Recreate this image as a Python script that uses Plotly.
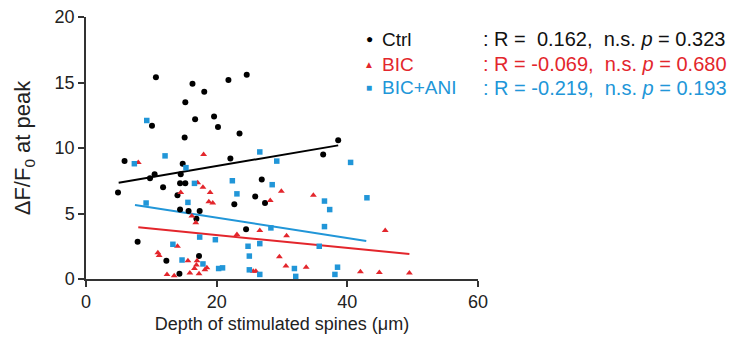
import plotly.graph_objects as go

# ---- data ----
ctrl_x = [10.7, 16.3, 18.1, 15.2, 16.7, 10.1, 15.1, 21.8, 24.6, 19.6, 20.2, 23.5, 38.6,
          5.9, 14.8, 10.5, 9.8, 14.5, 14.4, 15.2, 4.9, 11.8, 14.0, 14.4, 15.7, 17.4,
          16.9, 7.9, 12.3, 17.3, 14.3, 22.1, 36.3, 26.9, 25.9, 27.4, 22.7, 24.5]
ctrl_y = [15.4, 14.9, 14.3, 13.5, 12.2, 11.7, 10.8, 15.2, 15.6, 12.4, 11.6, 11.1, 10.6,
          9.0, 8.8, 8.0, 7.7, 8.0, 7.3, 7.3, 6.6, 7.0, 6.4, 5.3, 5.2, 5.2,
          4.6, 2.85, 1.4, 1.75, 0.4, 9.2, 9.5, 7.6, 6.3, 5.8, 5.7, 3.8]

bic_x = [8.0, 18.0, 17.1, 17.9, 14.5, 18.8, 16.2, 16.8, 14.0, 11.2, 15.6, 17.0, 16.9,
         18.5, 15.9, 17.3, 12.4, 13.5, 19.0, 29.9, 34.8, 19.4, 28.2, 26.6, 23.1, 30.7,
         29.6, 30.6, 33.7, 25.6, 26.0, 45.8, 42.0, 44.9, 49.5, 11.0, 18.2, 16.6]
bic_y = [8.9, 9.5, 7.35, 7.0, 6.6, 5.9, 4.8, 4.3, 2.5, 1.8, 1.4, 1.4, 1.07,
         0.85, 0.45, 0.4, 0.35, 0.25, 6.6, 6.7, 6.4, 5.8, 6.0, 3.7, 3.4, 3.3,
         1.7, 1.0, 0.9, 0.6, 0.6, 3.7, 0.55, 0.5, 0.45, 2.0, 0.7, 0.8]

ani_x = [9.3, 7.4, 12.1, 15.3, 16.6, 15.6, 9.2, 17.4, 13.3, 14.7, 17.9, 26.6, 29.2,
         40.5, 22.4, 28.5, 23.1, 36.5, 37.3, 28.3, 36.5, 19.8, 26.6, 24.8, 35.7, 25.0,
         31.9, 38.5, 20.3, 20.9, 25.0, 26.6, 32.1, 38.1, 43.0]
ani_y = [12.1, 8.8, 9.4, 8.5, 7.3, 5.85, 5.8, 3.2, 2.65, 1.45, 1.15, 9.7, 9.0,
         8.9, 7.5, 7.2, 6.5, 5.95, 5.3, 3.9, 4.0, 3.0, 2.7, 2.5, 2.5, 1.75,
         0.8, 0.9, 0.8, 0.85, 0.7, 0.35, 0.2, 0.35, 6.2]

# regression line end points (x start/end, y start/end)
fit_ctrl_x = [5.0, 38.6]
fit_ctrl_y = [7.35, 10.2]
fit_bic_x = [8.0, 49.5]
fit_bic_y = [3.95, 1.9]
fit_ani_x = [7.5, 42.9]
fit_ani_y = [5.65, 2.9]

groups = ["Ctrl", "BIC", "BIC+ANI"]
stats = [": R = &nbsp;0.162, &nbsp;n.s. <i>p</i> = 0.323",
         ": R = -0.069, &nbsp;n.s. <i>p</i> = 0.680",
         ": R = -0.219, &nbsp;n.s. <i>p</i> = 0.193"]
x_ticks = [0, 20, 40, 60]
y_ticks = [0, 5, 10, 15, 20]

BLACK = "#000000"
RED = "#e3262c"
BLUE = "#2196d8"
colors = [BLACK, RED, BLUE]
symbols = ["circle", "triangle-up", "square"]
marker_sizes = [6, 6, 5.5]
FONT = "Liberation Sans, Arial, sans-serif"

fig = go.Figure()
fits = [(fit_ctrl_x, fit_ctrl_y), (fit_bic_x, fit_bic_y), (fit_ani_x, fit_ani_y)]
pts = [(ctrl_x, ctrl_y), (bic_x, bic_y), (ani_x, ani_y)]

for i in range(3):
    fig.add_trace(go.Scatter(x=fits[i][0], y=fits[i][1], mode="lines",
                             line=dict(color=colors[i], width=2),
                             showlegend=False, hoverinfo="skip", cliponaxis=False))
for i in range(3):
    fig.add_trace(go.Scatter(x=pts[i][0], y=pts[i][1], mode="markers",
                             marker=dict(color=colors[i], symbol=symbols[i],
                                         size=marker_sizes[i], line=dict(width=0)),
                             name=groups[i], showlegend=False, cliponaxis=False))

L, T, PW, PH = 86, 17, 392, 262
def px2paper(px, py):
    return (px - L) / PW, (T + PH - py) / PH

row_y = [39, 64, 88]
glyphs = ["●", "▲", "■"]
glyph_sizes = [12, 10, 10]
for i in range(3):
    mx, my = px2paper(369, row_y[i])
    tx, _ = px2paper(380, row_y[i])
    sx, _ = px2paper(481, row_y[i])
    txt_col = colors[i] if i else "#111"
    fig.add_annotation(xref="paper", yref="paper", x=mx, y=my, text=glyphs[i],
                       showarrow=False, xanchor="center", yanchor="middle",
                       font=dict(family=FONT, size=glyph_sizes[i], color=colors[i]))
    fig.add_annotation(xref="paper", yref="paper", x=tx, y=my, text=groups[i],
                       showarrow=False, xanchor="left", yanchor="middle",
                       font=dict(family=FONT, size=19, color=txt_col))
    fig.add_annotation(xref="paper", yref="paper", x=sx, y=my, text=stats[i],
                       showarrow=False, xanchor="left", yanchor="middle",
                       font=dict(family=FONT, size=20, color=txt_col))

axis_common = dict(showgrid=False, zeroline=False, showline=True, linecolor="#333",
                   linewidth=1.5, ticks="outside", ticklen=6, tickwidth=1.5,
                   tickcolor="#333", tickfont=dict(family=FONT, size=18, color="#222"))

fig.update_xaxes(range=[0, 60], tickvals=x_ticks, **axis_common,
                 title=dict(text="Depth of stimulated spines (μm)", standoff=6,
                            font=dict(family=FONT, size=18, color="#222")))
fig.update_yaxes(range=[0, 20], tickvals=y_ticks, **axis_common,
                 title=dict(text="ΔF/F<sub>0</sub> at peak", standoff=18,
                            font=dict(family=FONT, size=22, color="#222")))

fig.update_layout(width=737, height=342, plot_bgcolor="white", paper_bgcolor="white",
                  margin=dict(l=L, r=737 - L - PW, t=T, b=342 - T - PH, autoexpand=False),
                  showlegend=False)

fig.write_html("out.html", config={"displayModeBar": False},
               post_script="document.body.style.margin='0';")
